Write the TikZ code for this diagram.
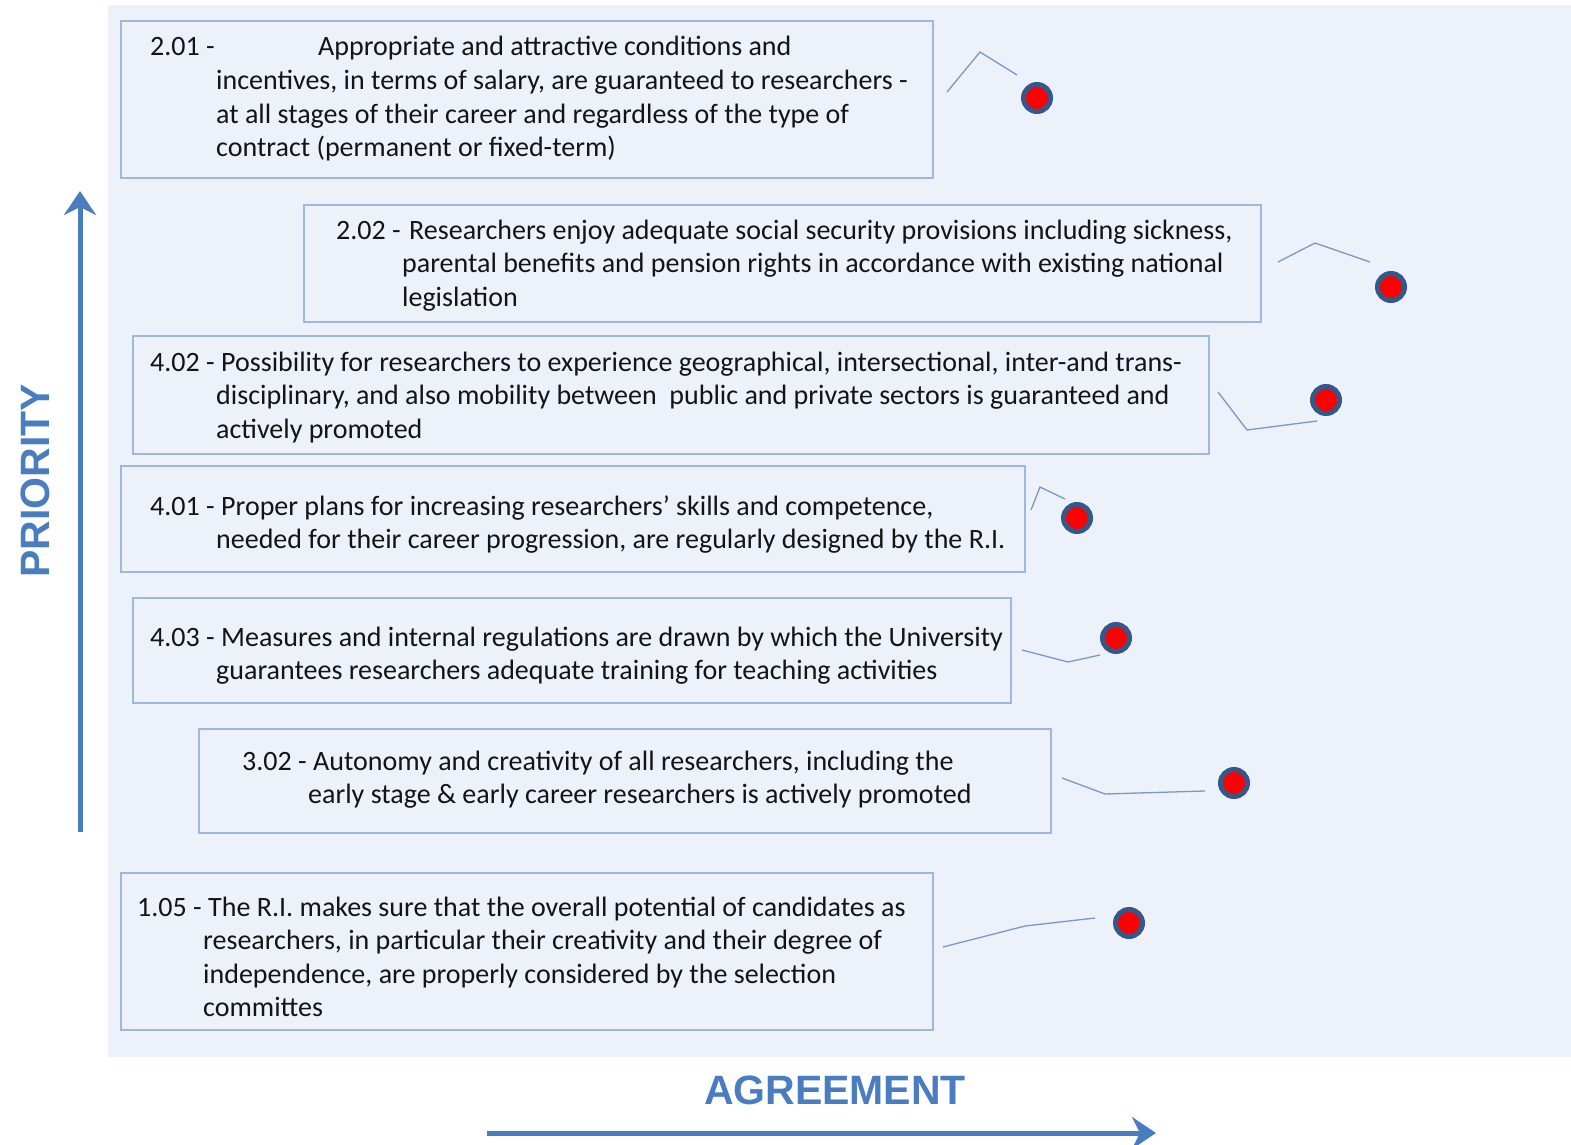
\documentclass[tikz,border=0pt]{standalone}
\usepackage{fontspec}
\setmainfont{Carlito}
\newfontfamily\headfont{Liberation Sans}
\usetikzlibrary{arrows.meta}
\definecolor{bgfill}{HTML}{ECF1FA}
\definecolor{boxline}{HTML}{9DB7DD}
\definecolor{conline}{HTML}{7A98C8}
\definecolor{axisblue}{HTML}{4A7CC0}
\definecolor{ringblue}{HTML}{34588A}
\definecolor{txt}{HTML}{141414}
\tikzset{
  itembox/.style={draw=boxline, line width=1.6pt},
  itemtext/.style={anchor=base west, inner sep=0pt, text=txt, font=\fontsize{28}{33.6}\selectfont},
  conn/.style={draw=conline, line width=1.3pt},
  dot/.style={circle, fill=red, draw=ringblue, line width=5pt, minimum size=27pt, inner sep=0pt},
  axis/.style={draw=axisblue, line width=5pt, -{Stealth[length=24pt,width=32pt,inset=8pt]}},
  axislabel/.style={text=axisblue, font=\headfont\bfseries\fontsize{41}{45}\selectfont, inner sep=0pt}
}
\newcommand{\itemrow}[3]{\begin{tabular}[t]{@{}p{#1}@{}l@{}}#2 & #3\end{tabular}}
\begin{document}
\begin{tikzpicture}[x=1pt,y=-1pt]
\useasboundingbox (0,0) rectangle (1571,1145);
\fill[bgfill] (108,5) rectangle (1571,1057);

% boxes
\node[itembox, rectangle, minimum width=812pt, minimum height=157pt, anchor=north west] (b1) at (120,20) {};
\node[itembox, rectangle, minimum width=957pt, minimum height=117pt, anchor=north west] (b2) at (303,204) {};
\node[itembox, rectangle, minimum width=1076pt, minimum height=118pt, anchor=north west] (b3) at (132,335) {};
\node[itembox, rectangle, minimum width=904pt, minimum height=106pt, anchor=north west] (b4) at (120,465) {};
\node[itembox, rectangle, minimum width=878pt, minimum height=105pt, anchor=north west] (b5) at (132,597) {};
\node[itembox, rectangle, minimum width=852pt, minimum height=104pt, anchor=north west] (b6) at (198,728) {};
\node[itembox, rectangle, minimum width=812pt, minimum height=157pt, anchor=north west] (b7) at (120,872) {};

% texts
\node[itemtext] (t1) at (150,56) {\itemrow{66pt}{2.01 -}{\hspace{102pt}Appropriate and attractive conditions and\\ & incentives, in terms of salary, are guaranteed to researchers -\\ & at all stages of their career and regardless of the type of\\ & contract (permanent or fixed-term)}};
\node[itemtext] (t2) at (336,239) {\itemrow{66pt}{2.02 -}{\hspace{7pt}Researchers enjoy adequate social security provisions including sickness,\\ & parental benefits and pension rights in accordance with existing national\\ & legislation}};
\node[itemtext] (t3) at (150,371) {\itemrow{66pt}{4.02 -}{\hspace{5pt}Possibility for researchers to experience geographical, intersectional, inter-and trans-\\ & disciplinary, and also mobility between\ \ public and private sectors is guaranteed and\\ & actively promoted}};
\node[itemtext] (t4) at (150,515) {\itemrow{66pt}{4.01 -}{\hspace{5pt}Proper plans for increasing researchers’ skills and competence,\\ & needed for their career progression, are regularly designed by the R.I.}};
\node[itemtext] (t5) at (150,646) {\itemrow{66pt}{4.03 -}{\hspace{5pt}Measures and internal regulations are drawn by which the University\\ & guarantees researchers adequate training for teaching activities}};
\node[itemtext] (t6) at (242,770) {\itemrow{66pt}{3.02 -}{\hspace{5pt}Autonomy and creativity of all researchers, including the\\ & early stage \& early career researchers is actively promoted}};
\node[itemtext] (t7) at (137,916) {\itemrow{66pt}{1.05 -}{\hspace{5pt}The R.I. makes sure that the overall potential of candidates as\\ & researchers, in particular their creativity and their degree of\\ & independence, are properly considered by the selection\\ & committes}};

% dots
\node[dot] (d1) at (1037,98) {};
\node[dot] (d2) at (1391,287) {};
\node[dot] (d3) at (1326,400) {};
\node[dot] (d4) at (1077,518) {};
\node[dot] (d5) at (1116,638) {};
\node[dot] (d6) at (1234,783) {};
\node[dot] (d7) at (1129,923) {};

% connector coordinates
\coordinate (c1a) at (947,92);  \coordinate (c1b) at (980,52);  \coordinate (c1c) at (1017,75);
\coordinate (c2a) at (1278,262); \coordinate (c2b) at (1315,243); \coordinate (c2c) at (1370,262);
\coordinate (c3a) at (1218,392); \coordinate (c3b) at (1247,430); \coordinate (c3c) at (1317,421);
\coordinate (c4a) at (1031,510); \coordinate (c4b) at (1040,487); \coordinate (c4c) at (1065,499);
\coordinate (c5a) at (1022,650); \coordinate (c5b) at (1068,662); \coordinate (c5c) at (1100,655);
\coordinate (c6a) at (1062,778); \coordinate (c6b) at (1105,794); \coordinate (c6c) at (1205,791);
\coordinate (c7a) at (943,947);  \coordinate (c7b) at (1025,926); \coordinate (c7c) at (1095,918);
\draw[conn] (c1a) -- (c1b) -- (c1c);
\draw[conn] (c2a) -- (c2b) -- (c2c);
\draw[conn] (c3a) -- (c3b) -- (c3c);
\draw[conn] (c4a) -- (c4b) -- (c4c);
\draw[conn] (c5a) -- (c5b) -- (c5c);
\draw[conn] (c6a) -- (c6b) -- (c6c);
\draw[conn] (c7a) -- (c7b) -- (c7c);

% axes
\coordinate (vy0) at (80,832); \coordinate (vy1) at (80,191);
\coordinate (hx0) at (487,1133); \coordinate (hx1) at (1156,1133);
\draw[axis] (vy0) -- (vy1);
\draw[axis] (hx0) -- (hx1);
\node[axislabel, rotate=90] (ly) at (35,481) {PRIORITY};
\node[axislabel] (lx) at (835,1090) {AGREEMENT};
\end{tikzpicture}
\end{document}
